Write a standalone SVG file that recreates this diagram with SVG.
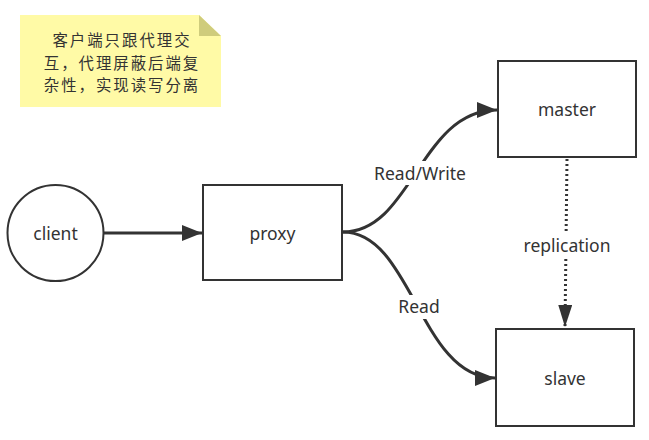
<svg xmlns="http://www.w3.org/2000/svg" width="649" height="440" viewBox="0 0 649 440">
<style>
.box{fill:#fff;stroke:#333;stroke-width:2}
.lbl{font-family:"Noto Sans","Open Sans","Liberation Sans",sans-serif;font-size:17.5px;fill:#333;text-anchor:middle;dominant-baseline:central}
.cjk{font-family:"Noto Sans CJK SC","Noto Sans",sans-serif;font-size:15.4px;letter-spacing:2px;fill:#333;text-anchor:middle}
.edge{fill:none;stroke:#333;stroke-width:3}
.dot{fill:none;stroke:#333;stroke-width:3;stroke-dasharray:2 3}
</style>
<defs>
<marker id="arr" markerUnits="userSpaceOnUse" markerWidth="22" markerHeight="16" refX="20" refY="8" orient="auto">
<path d="M0,0 L20,8 L0,16 Z" fill="#333"/>
</marker>
<marker id="arr2" markerUnits="userSpaceOnUse" markerWidth="24" markerHeight="14" refX="22" refY="7" orient="auto">
<path d="M0,0 L22,7 L0,14 Z" fill="#333"/>
</marker>
</defs>
<g id="note">
<path d="M20,15 L199,15 L221,36 L221,107 L20,107 Z" fill="#fffaa6"/>
<path d="M199,15 L221,36 L199,36 Z" fill="#cfcc7c"/>
<text class="cjk" x="122" y="46">客户端只跟代理交</text>
<text class="cjk" x="122" y="68.5">互，代理屏蔽后端复</text>
<text class="cjk" x="122" y="91">杂性，实现读写分离</text>
</g>
<g id="connectors">
<path class="edge" d="M104,233 L202,233" marker-end="url(#arr)"/>
<path class="edge" d="M343,232 C412,232 420,110 497,110" marker-end="url(#arr)"/>
<path class="edge" d="M343,232 C412,232 420,378 495,378" marker-end="url(#arr)"/>
<path class="dot" d="M567,159 L565,327" marker-end="url(#arr2)"/>
<rect x="368" y="161" width="104" height="24" fill="#fff"/>
<text class="lbl" x="420" y="173">Read/Write</text>
<rect x="394" y="295" width="50" height="24" fill="#fff"/>
<text class="lbl" x="419" y="306">Read</text>
<rect x="518" y="233" width="99" height="25" fill="#fff"/>
<text class="lbl" x="567" y="245">replication</text>
</g>
<g id="client">
<circle class="box" cx="55.5" cy="233" r="48"/>
<text class="lbl" x="55.5" y="233">client</text>
</g>
<g id="proxy">
<rect class="box" x="203" y="185" width="139" height="95"/>
<text class="lbl" x="272.5" y="233">proxy</text>
</g>
<g id="master">
<rect class="box" x="498" y="61" width="138" height="96"/>
<text class="lbl" x="567" y="109">master</text>
</g>
<g id="slave">
<rect class="box" x="496" y="329" width="138" height="97"/>
<text class="lbl" x="565" y="378">slave</text>
</g>
</svg>
